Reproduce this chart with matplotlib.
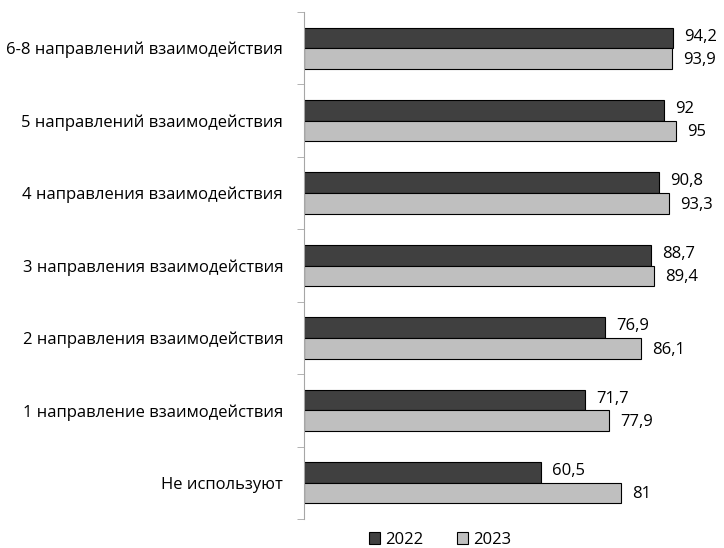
import numpy as np
import matplotlib
matplotlib.use('Agg')
import matplotlib.pyplot as plt

# данные (сверху вниз)
categories = ['6-8 направлений взаимодействия', '5 направлений взаимодействия',
              '4 направления взаимодействия', '3 направления взаимодействия',
              '2 направления взаимодействия', '1 направление взаимодействия',
              'Не используют']
values_2022 = [94.2, 92, 90.8, 88.7, 76.9, 71.7, 60.5]
values_2023 = [93.9, 95, 93.3, 89.4, 86.1, 77.9, 81]

plt.rcParams['font.family'] = ['Open Sans', 'DejaVu Sans']

fig = plt.figure(figsize=(7.24, 5.48), dpi=100)
ax = fig.add_axes([304 / 724, 1 - 519 / 548, 411 / 724, 507 / 548])

y = np.arange(len(categories))
h = 0.285
b1 = ax.barh(y - h / 2, values_2022, height=h, color='#404040', edgecolor='black', linewidth=0.8, label='2022')
b2 = ax.barh(y + h / 2, values_2023, height=h, color='#bfbfbf', edgecolor='black', linewidth=0.8, label='2023')

def fmt(v):
    return f'{v:g}'.replace('.', ',')

# подписи значений справа от столбцов
for barras, dy in ((b1, 1), (b2, -1)):
    for barra in barras:
        valor = barra.get_width()
        ax.annotate(fmt(valor), xy=(valor, barra.get_y() + barra.get_height() / 2),
                    xytext=(8, dy), textcoords='offset points', va='center', ha='left', fontsize=12)

ax.set_xlim(0, 105)
ax.set_ylim(len(categories) - 0.5, -0.5)
ax.set_yticks(y)
ax.set_yticklabels(categories, fontsize=12)
ax.set_yticks(np.arange(-0.5, len(categories)), minor=True)
ax.tick_params(axis='y', which='major', length=0, pad=15)
ax.tick_params(axis='y', which='minor', length=5, color='#a6a6a6')
ax.set_xticks([])
for lado in ['top', 'right', 'bottom']:
    ax.spines[lado].set_visible(False)
ax.spines['left'].set_color('#a6a6a6')

fig.legend(handles=[b1, b2], labels=['2022', '2023'], loc='center', bbox_to_anchor=(440 / 724, 1 - 540 / 548),
           ncol=2, frameon=False, fontsize=12, handlelength=0.7, handleheight=0.7,
           handletextpad=0.3, columnspacing=2.0)

fig.savefig('out.png', dpi=100)
